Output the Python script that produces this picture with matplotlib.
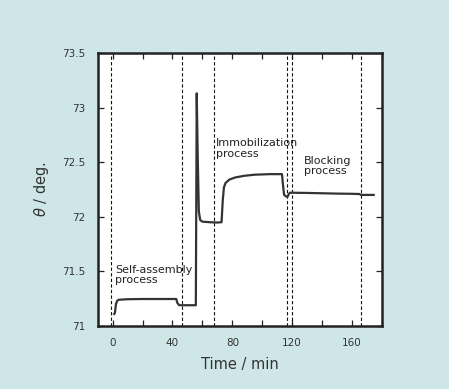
import numpy as np
import matplotlib.pyplot as plt
from matplotlib.ticker import MultipleLocator

# contact angle trace
time = [1.0, 1.5, 2.2, 3.0, 4.0, 10, 20, 30, 42.5, 43.3, 44.5, 50, 55.6,
        56.2, 56.8, 57.6, 58.5, 60, 65, 70, 72.8, 73.6, 74.4, 75.5,
        78, 82, 88, 95, 105, 113.2, 113.8, 114.6, 116, 117, 117.8, 118.6,
        120, 130, 140, 150, 160, 165, 166, 170, 174.5]
theta = [71.11, 71.12, 71.20, 71.23, 71.24, 71.245, 71.247, 71.247, 71.247,
         71.21, 71.19, 71.19, 71.19,
         73.13, 72.60, 72.05, 71.97, 71.955, 71.95, 71.947, 71.95, 72.15, 72.27, 72.31,
         72.34, 72.36, 72.375, 72.385, 72.39, 72.39, 72.30, 72.20, 72.185, 72.185, 72.21, 72.22,
         72.22, 72.218, 72.215, 72.212, 72.21, 72.208, 72.20, 72.20, 72.20]

# dashed boundaries between process steps (min)
boundaries = [-1, 46.5, 67.7, 116.4, 119.7, 165.8]

labels = ["Self-assembly\nprocess", "Immobilization\nprocess", "Blocking\nprocess"]
label_x = [1.5, 69.0, 128.0]
label_y = [71.56, 72.72, 72.56]

bg = "#cfe6e8"
fig = plt.figure(figsize=(4.49, 3.89), dpi=100, facecolor=bg)
ax = fig.add_axes([0.2176, 0.162, 0.633, 0.702])

for b in boundaries:
    ax.axvline(b, color="#111111", lw=0.8, ls=(0, (3, 2)))

ax.plot(time, theta, color="#333333", lw=1.6, solid_joinstyle="round")

for t, x, y in zip(labels, label_x, label_y):
    ax.text(x, y, t, fontsize=8, va="top", ha="left", color="#222222",
            linespacing=1.05)

ax.set_xlim(-10, 180)
ax.set_ylim(71, 73.5)
ax.xaxis.set_major_locator(MultipleLocator(40))
ax.xaxis.set_minor_locator(MultipleLocator(20))
ax.set_yticks([71, 71.5, 72, 72.5, 73, 73.5])
ax.set_yticklabels(["71", "71.5", "72", "72.5", "73", "73.5"])
ax.tick_params(which="both", direction="in", top=True, right=True,
               length=4, width=0.9, color="#222222", labelsize=7.5, pad=9,
               labelcolor="#333333")
ax.tick_params(which="minor", length=4)
for s in ax.spines.values():
    s.set_linewidth(1.8)
    s.set_color("#222222")

ax.set_xlabel("Time / min", fontsize=10.5, color="#333333", labelpad=6)
ax.set_ylabel(r"$\theta$ / deg.", fontsize=10.5, color="#333333", labelpad=8)

plt.savefig("out.png", dpi=100, facecolor=bg)
